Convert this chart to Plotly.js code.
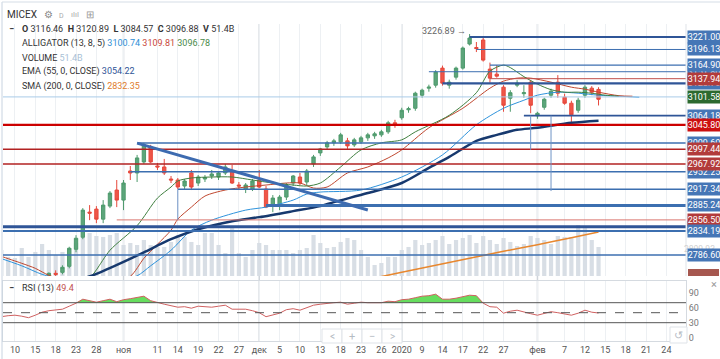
<!DOCTYPE html>
<html><head><meta charset="utf-8">
<script src="https://cdn.plot.ly/plotly-3.0.1.min.js"></script>
<style>html,body{margin:0;padding:0;background:#fff;overflow:hidden}#chart{width:720px;height:359px}</style>
</head><body><div id="chart"></div>
<script>
// ---------------- DATA ----------------
const tradingDays=['2019-10-07','2019-10-08','2019-10-09','2019-10-10','2019-10-11','2019-10-14','2019-10-15','2019-10-16','2019-10-17','2019-10-18',
'2019-10-21','2019-10-22','2019-10-23','2019-10-24','2019-10-25','2019-10-28','2019-10-29','2019-10-30','2019-10-31','2019-11-01',
'2019-11-05','2019-11-06','2019-11-07','2019-11-08','2019-11-11','2019-11-12','2019-11-13','2019-11-14','2019-11-15','2019-11-18',
'2019-11-19','2019-11-20','2019-11-21','2019-11-22','2019-11-25','2019-11-26','2019-11-27','2019-11-28','2019-11-29','2019-12-02',
'2019-12-03','2019-12-04','2019-12-05','2019-12-06','2019-12-09','2019-12-10','2019-12-11','2019-12-12','2019-12-13','2019-12-16',
'2019-12-17','2019-12-18','2019-12-19','2019-12-20','2019-12-23','2019-12-24','2019-12-25','2019-12-26','2019-12-27','2019-12-30',
'2020-01-03','2020-01-06','2020-01-08','2020-01-09','2020-01-10','2020-01-13','2020-01-14','2020-01-15','2020-01-16','2020-01-17',
'2020-01-20','2020-01-21','2020-01-22','2020-01-23','2020-01-24','2020-01-27','2020-01-28','2020-01-29','2020-01-30','2020-01-31',
'2020-02-03','2020-02-04','2020-02-05','2020-02-06','2020-02-07','2020-02-10','2020-02-11','2020-02-12','2020-02-13','2020-02-14'];
const futureDays=['2020-02-15','2020-02-16','2020-02-17','2020-02-18','2020-02-19','2020-02-20','2020-02-21','2020-02-22','2020-02-23','2020-02-24','2020-02-25','2020-02-26','2020-02-27','2020-02-28','2020-02-29'];

const openP=[2742,2738,2728,2730,2735,2730,2726,2733,2745,2750,
 2752,2764,2798,2822,2872,2878,2858,2884,2916,2896,
 2954,2950,2972,3002,2964,2962,2938,2936,2924,2950,
 2930,2938,2944,2942,2950,2952,2926,2918,2918,2936,
 2918,2886,2886,2902,2930,2942,2932,2968,2990,3002,
 3010,3012,3014,3006,3012,3020,3024,3026,3032,3050,
 3060,3076,3079,3105,3119,3125,3159,3125,3141,3159,
 3207,3200,3215,3157,3147,3121,3099,3125,3108,3131,
 3064,3081,3105,3131,3101,3089,3075,3105,3119,3116.46];
const highP=[2750,2740,2736,2738,2740,2738,2736,2740,2752,2756,
 2766,2803,2826,2880,2886,2884,2896,2914,2936,2936,
 2964,2986,3010,3006,2970,2978,2944,2940,2938,2956,
 2946,2946,2956,2954,2968,2966,2932,2930,2938,2956,
 2924,2906,2906,2930,2946,2950,2958,2986,3000,3014,
 3018,3030,3020,3020,3024,3030,3032,3036,3054,3056,
 3080,3082,3112,3118,3126,3155,3164,3136,3162,3202,
 3226.89,3211,3220,3170,3165,3125,3115,3135,3125,3135,
 3072,3100,3118,3145,3108,3094,3100,3125,3123,3120.89];
const lowP=[2730,2722,2718,2722,2725,2720,2718,2725,2740,2743,
 2748,2760,2792,2818,2856,2850,2850,2880,2882,2876,
 2936,2932,2968,2970,2956,2946,2930,2918,2918,2916,
 2924,2932,2938,2936,2946,2928,2916,2910,2914,2920,
 2880,2872,2876,2896,2924,2926,2926,2962,2984,2996,
 3004,3008,2998,3002,3008,3014,3018,3022,3028,3040,
 3056,3070,3074,3100,3112,3120,3124,3118,3136,3156,
 3204,3191,3172,3130,3140,3072,3072,3121,3100,3069,
 3058,3076,3100,3100,3086,3050,3070,3100,3105,3084.57];
const closeP=[2738,2728,2730,2735,2730,2726,2733,2737,2750,2748,
 2762,2800,2820,2876,2870,2858,2886,2910,2896,2930,
 2950,2980,3006,2972,2962,2950,2936,2922,2934,2922,
 2942,2941,2948,2950,2962,2930,2924,2926,2934,2922,
 2882,2900,2902,2926,2944,2930,2954,2982,2998,3010,
 3014,3026,3004,3016,3020,3026,3028,3032,3050,3046,
 3075,3078,3109,3115,3121,3151,3129,3131,3159,3199,
 3219,3198,3175,3139,3143,3085,3110,3129,3110,3085,
 3069,3097,3113,3109,3089,3066,3095,3121,3111,3096.88];
// volume, billions
const volumeB=[40.0,46.5,34.9,33.2,49.8,34.9,43.2,56.4,46.5,38.2,
 43.2,49.8,58.1,68.1,74.7,69.7,68.1,71.4,74.7,54.8,
 58.1,54.8,63.1,54.8,51.5,51.5,59.8,71.4,68.1,59.8,
 54.8,74.7,74.7,54.8,41.5,83.0,41.5,34.9,46.5,58.1,
 54.8,46.5,46.5,46.5,41.5,46.5,49.8,71.4,58.1,49.8,
 51.5,59.8,66.4,63.1,46.5,34.9,21.6,24.9,34.9,34.9,
 46.5,51.5,63.1,54.8,58.1,63.1,69.7,56.4,63.1,66.4,
 71.4,58.1,69.7,63.1,56.4,66.4,59.8,53.1,56.4,69.7,
 66.4,63.1,56.4,69.7,68.1,68.1,88.0,83.0,63.1,51.4];
const rsi13=[42,42,44,45,43,40,45,51,54,55,
 57,63,69,77,74,71,74,77,72,76,
 78,80,83,74,70,67,64,61,62,59,
 63,62,61,63,65,57,57,57,54,50,
 42,46,49,56,58,55,60,65,67,69,
 70,71,67,69,71,70,70,70,73,72,
 76,77,80,83,84,87,77,77,79,82,
 85,84,69,62,61,49,53,55,51,48,
 45,48,52,50,48,45,49,55,51,49.4];

// Alligator lines
const jawDates=['2019-10-07','2019-10-11','2019-10-16','2019-10-21','2019-10-25','2019-10-31','2019-11-06','2019-11-08','2019-11-13','2019-11-18','2019-11-21','2019-11-28','2019-12-03','2019-12-09','2019-12-11','2019-12-13','2019-12-23','2020-01-03','2020-01-14','2020-01-21','2020-01-27','2020-01-30','2020-02-03','2020-02-06','2020-02-11','2020-02-14','2020-02-17','2020-02-20'];
const jawVals=[2784,2765,2748,2738,2732,2734,2745,2765,2796,2836,2856,2876,2882,2896,2908,2912,2916,2942,2986,3046,3079,3095,3105,3111,3109,3105,3103,3101];
const teethDates=['2019-10-07','2019-10-08','2019-10-11','2019-10-15','2019-10-17','2019-10-21','2019-10-25','2019-10-31','2019-11-05','2019-11-07','2019-11-08','2019-11-11','2019-11-13','2019-11-14','2019-11-18','2019-11-20','2019-11-25','2019-11-28','2019-12-03','2019-12-06','2019-12-10','2019-12-12','2019-12-16','2019-12-19','2019-12-24','2019-12-27','2020-01-03','2020-01-10','2020-01-17','2020-01-23','2020-01-27','2020-01-29','2020-01-31','2020-02-05','2020-02-10','2020-02-12','2020-02-14','2020-02-17','2020-02-19'];
const teethVals=[2790,2784,2770,2760,2746,2738,2732,2736,2744,2780,2794,2808,2836,2858,2882,2904,2916,2922,2926,2930,2930,2920,2922,2950,2962,2980,2996,3040,3079,3119,3133,3139,3139,3131,3121,3117,3111,3104,3103];
const lipsDates=['2019-10-23','2019-10-25','2019-10-28','2019-10-30','2019-11-06','2019-11-11','2019-11-13','2019-11-14','2019-11-18','2019-11-21','2019-11-26','2019-11-29','2019-12-04','2019-12-09','2019-12-11','2019-12-13','2019-12-18','2019-12-23','2019-12-26','2020-01-03','2020-01-08','2020-01-15','2020-01-21','2020-01-23','2020-01-27','2020-01-28','2020-01-30','2020-02-03','2020-02-05','2020-02-07','2020-02-11','2020-02-13','2020-02-15','2020-02-17'];
const lipsVals=[2722,2740,2757,2796,2845,2900,2922,2934,2940,2942,2942,2936,2930,2926,2924,2930,2962,2996,3010,3016,3032,3065,3110,3153,3165,3160,3142,3127,3116,3111,3111,3109,3105,3103];
const emaDates=['2019-10-23','2019-10-24','2019-10-28','2019-11-01','2019-11-07','2019-11-13','2019-11-19','2019-11-26','2019-12-02','2019-12-09','2019-12-13','2019-12-17','2019-12-24','2020-01-03','2020-01-10','2020-01-15','2020-01-21','2020-01-24','2020-01-29','2020-02-03','2020-02-10','2020-02-14'];
const emaVals=[2733,2739,2749,2773,2792,2818,2838,2854,2862,2874,2884,2892,2910,2930,2960,2982,3014,3026,3036,3040,3050,3054.22];
const smaDates=['2019-12-24','2020-01-03','2020-01-13','2020-01-20','2020-01-27','2020-02-03','2020-02-10','2020-02-14'];
const smaVals=[2738,2752,2766,2780,2794,2807,2821,2832.35];
const alligatorNow=[3100.74,3109.81,3096.78];

// drawn price levels
const levelPrice=[3221.00,3196.13,3151.80,3164.90,3128.70,3137.94,3101.58,3064.18,3045.80,3009.60,2997.44,2952.25,2967.92,2917.34,2885.24,2843.00,2856.50,2834.19,2786.60];
const levelFrom=['2020-01-20','2020-01-21','2020-01-10','2020-01-23','2020-01-14','2020-01-23','2019-10-07','2020-01-30','2019-10-07','2019-11-06','2019-10-07','2019-11-05','2019-10-07','2019-11-14','2019-12-03','2019-10-07','2019-10-31','2019-10-07','2019-10-07'];
const trendDates=['2019-11-06','2019-12-24'];
const trendPrices=[3009.60,2876.20];
const vertDates=['2019-11-14','2020-01-31','2020-02-05'];
const vertTop=[2917.34,3064.18,3064.18];
const vertBottom=[2856.50,2996.00,2914.00];

const tickDates=['2019-10-10','2019-10-15','2019-10-18','2019-10-23','2019-10-28','2019-11-01','2019-11-11','2019-11-14','2019-11-19','2019-11-22','2019-11-27','2019-12-02','2019-12-05','2019-12-10','2019-12-13','2019-12-18','2019-12-23','2019-12-26','2020-01-03','2020-01-09','2020-01-14','2020-01-17','2020-01-22','2020-01-27','2020-02-03','2020-02-07','2020-02-12','2020-02-15','2020-02-18','2020-02-21','2020-02-24','2020-02-27'];
const tickLabels=['10','15','18','23','28','ноя','11','14','19','22','27','дек','5','10','13','18','23','26','2020','9','14','17','22','27','фев','7','12','15','18','21','24','27'];
const monthStarts=['2019-11-01','2019-12-02','2020-01-03','2020-02-03'];

// ---------------- STYLE / LAYOUT ----------------
const FONT='Roboto, Arial, sans-serif';
const W=720,H=359,ML=3,MR=34,MT=24,MB=18;
const PW=W-ML-MR, PH=H-MT-MB;
const px=x=>(x-ML)/PW, py=y=>(H-MB-y)/PH;
const allDays=tradingDays.concat(futureDays);
const idx=d=>allDays.indexOf(d);
const lastDay=allDays[allDays.length-1];
const BLUE='#3c6fb0', DBLUE='#2f5597', DRED='#b23b3b';
const levelStyle=[
 {c:DBLUE,w:2,b:'#4576b6'},{c:BLUE,w:1,b:'#4576b6'},{c:BLUE,w:1,b:'#4576b6'},{c:BLUE,w:1.2,b:'#4576b6'},
 {c:DBLUE,w:2.2,b:'#4576b6'},{c:'#c0504d',w:1,b:DRED},{c:'#a9cbe8',w:1,b:'#2c6a2f'},{c:DBLUE,w:1.8,b:'#4576b6'},
 {c:'#cc0000',w:2.2,b:'#cc1010'},{c:BLUE,w:1.5,b:'#4576b6'},{c:'#b22222',w:1.5,b:DRED},{c:BLUE,w:1.5,b:'#4576b6'},
 {c:'#b22222',w:1.5,b:DRED},{c:BLUE,w:1.5,b:'#4576b6'},{c:BLUE,w:3,b:'#4576b6'},{c:DBLUE,w:3,b:'#4576b6'},
 {c:'#d9756e',w:1,b:DRED},{c:BLUE,w:2,b:'#4576b6'},{c:BLUE,w:1.5,b:'#4576b6'}];

const traces=[];
traces.push({type:'bar',x:tradingDays,y:volumeB,xaxis:'x',yaxis:'y',marker:{color:'#d8dee5'},width:0.62,hoverinfo:'skip'});
traces.push({type:'candlestick',x:tradingDays,open:openP,high:highP,low:lowP,close:closeP,xaxis:'x',yaxis:'y2',
 increasing:{line:{color:'#4e9a6c',width:1},fillcolor:'#5ca57b'},decreasing:{line:{color:'#e6483c',width:1},fillcolor:'#ef5648'},whiskerwidth:0,hoverinfo:'skip'});
function ln(x,y,color,width,shape,dash){return {type:'scatter',mode:'lines',x:x,y:y,xaxis:'x',yaxis:'y2',line:{color:color,width:width,shape:shape||'linear',smoothing:0.8,dash:dash||'solid'},hoverinfo:'skip'};}
traces.push(ln(smaDates,smaVals,'#e8872e',1.5,'spline'));
traces.push(ln(jawDates,jawVals,'#2e93dc',1,'spline'));
traces.push(ln(teethDates,teethVals,'#c0472f',1,'spline'));
traces.push(ln(lipsDates,lipsVals,'#3f7f3f',1,'spline'));
traces.push(ln(emaDates,emaVals,'#17396e',2.5,'spline'));
levelPrice.forEach((p,k)=>{traces.push(ln([levelFrom[k],lastDay],[p,p],levelStyle[k].c,levelStyle[k].w));});
traces.push(ln(trendDates,trendPrices,'#3d6bb0',3));
vertDates.forEach((d,k)=>traces.push(ln([d,d],[vertTop[k],vertBottom[k]],'#6f93c6',1)));

// RSI
const rsiMax=rsi13.map(v=>Math.max(v,70));
traces.push({type:'scatter',mode:'lines',x:tradingDays,y:tradingDays.map(()=>70),xaxis:'x2',yaxis:'y3',line:{width:0,color:'rgba(0,0,0,0)'},hoverinfo:'skip'});
traces.push({type:'scatter',mode:'lines',x:tradingDays,y:rsiMax,xaxis:'x2',yaxis:'y3',fill:'tonexty',fillcolor:'#66dd5e',line:{width:0,color:'rgba(0,0,0,0)'},hoverinfo:'skip'});
traces.push({type:'scatter',mode:'lines',x:tradingDays,y:rsi13,xaxis:'x2',yaxis:'y3',line:{color:'#d06060',width:1},hoverinfo:'skip'});

const shapes=[];
monthStarts.forEach(d=>shapes.push({type:'line',xref:'x',x0:idx(d),x1:idx(d),yref:'paper',y0:0,y1:1,line:{color:'#cfd4da',width:1.5},layer:'below'}));
[[70,'solid'],[30,'solid'],[50,'dash']].forEach(a=>shapes.push({type:'line',xref:'paper',x0:0,x1:1,yref:'y3',y0:a[0],y1:a[0],line:{color:'#555',width:1,dash:a[1]}}));
shapes.push({type:'line',xref:'paper',yref:'paper',x0:px(2),x1:px(2),y0:py(2),y1:py(359),line:{color:'#c8d3e0',width:1}});
shapes.push({type:'line',xref:'paper',yref:'paper',x0:px(2),x1:px(720),y0:py(2),y1:py(2),line:{color:'#d5dde6',width:1}});
shapes.push({type:'line',xref:'paper',yref:'paper',x0:1,x1:1,y0:py(276),y1:1,line:{color:'#dfe3e8',width:1}});
shapes.push({type:'rect',xref:'paper',yref:'paper',x0:px(688),x1:px(719),y0:py(276),y1:py(269),fillcolor:'#a6574f',line:{width:0}});
// nav buttons
[322,342,362,382].forEach(x=>shapes.push({type:'rect',xref:'paper',yref:'paper',x0:px(x),x1:px(x+20),y0:py(343),y1:py(329),fillcolor:'#fff',line:{color:'#dfe3e8',width:1}}));
shapes.push({type:'rect',xref:'paper',yref:'paper',x0:px(670),x1:px(687),y0:py(343),y1:py(327),fillcolor:'#fff',line:{color:'#dfe3e8',width:1}});

const ann=[];
function txt(x,y,t,size,color,anchor){ann.push({xref:'paper',yref:'paper',x:px(x),y:py(y),text:t,showarrow:false,xanchor:anchor||'left',yanchor:'middle',font:{family:FONT,size:size||9,color:color||'#333'}});}
const S='\u00a0';
txt(5,15,'MICEX',10,'#333');
txt(42,15,'⚙',10,'#888');txt(57,16,'D',7,'#aaa');txt(69,15,'ılıl',8,'#aaa');txt(84,15,'⊞',10,'#999');
const last=tradingDays.length-1;
txt(7,29,'<b>−</b>',9,'#333');
txt(20,29,'<b>O</b> '+openP[last].toFixed(2)+S+S+'<b>H</b> '+highP[last].toFixed(2)+S+S+'<b>L</b> '+lowP[last].toFixed(2)+S+S+'<b>C</b> '+closeP[last].toFixed(2)+S+S+'<b>V</b> '+volumeB[last].toFixed(1)+'B',9,'#333');
txt(20,43.5,'ALLIGATOR (13, 8, 5)'+S+'<span style="color:#2e8fd6">'+alligatorNow[0].toFixed(2)+'</span>'+S+'<span style="color:#c9473a">'+alligatorNow[1].toFixed(2)+'</span>'+S+'<span style="color:#4a8a4a">'+alligatorNow[2].toFixed(2)+'</span>',9,'#333');
txt(20,57.5,'VOLUME'+S+'<span style="color:#a9bfd6">'+volumeB[last].toFixed(1)+'B</span>',9,'#333');
txt(20,71.5,'EMA (55, 0, CLOSE)'+S+'<span style="color:#2f5597">'+emaVals[emaVals.length-1].toFixed(2)+'</span>',9,'#333');
txt(20,86,'SMA (200, 0, CLOSE)'+S+'<span style="color:#e07b2c">'+smaVals[smaVals.length-1].toFixed(2)+'</span>',9,'#333');
txt(7,288,'<b>−</b>',9,'#333');
txt(20,288,'RSI (13)'+S+'<span style="color:#c0504d">'+rsi13[last].toFixed(1)+'</span>',9,'#333');
txt(714,284,'×',11,'#999','center');
txt(332,336,'<',10,'#b5bcc4','center');txt(352,336,'+',11,'#b5bcc4','center');txt(372,336,'−',11,'#b5bcc4','center');txt(392,336,'>',10,'#b5bcc4','center');
txt(678.5,335,'↺',11,'#b5bcc4','center');
txt(717,249,'2809.93',8.5,'#d0d0d0','right');
// high marker
ann.push({xref:'x',yref:'y2',x:idx(tradingDays[70]),y:highP[70],text:highP[70].toFixed(2)+' →',showarrow:false,xanchor:'right',yanchor:'middle',xshift:-2,yshift:3,font:{family:FONT,size:9,color:'#666'}});
// level labels
levelPrice.forEach((p,k)=>ann.push({xref:'paper',yref:'y2',x:1,y:p,xanchor:'left',yanchor:'middle',xshift:1,text:p.toFixed(2),showarrow:false,bgcolor:levelStyle[k].b,width:32,height:12,borderpad:0,align:'center',font:{family:FONT,size:9,color:'#fff'}}));

const layout={width:W,height:H,margin:{l:ML,r:MR,t:MT,b:MB,pad:0},paper_bgcolor:'#fff',plot_bgcolor:'#fff',showlegend:false,hovermode:false,
 font:{family:FONT},
 xaxis:{type:'category',categoryorder:'array',categoryarray:allDays,range:[1.238,101.89],autorange:false,domain:[0,1],anchor:'y',tickmode:'array',tickvals:tickDates,showticklabels:false,ticks:'',showgrid:true,gridcolor:'#edf0f3',zeroline:false,showline:false,rangeslider:{visible:false},fixedrange:true},
 yaxis:{domain:[py(276),1],range:[3.3,421.6],autorange:false,showgrid:false,showticklabels:false,zeroline:false,ticks:'',fixedrange:true},
 yaxis2:{overlaying:'y',range:[2744.7,3246.9],autorange:false,showgrid:false,showticklabels:false,zeroline:false,ticks:'',fixedrange:true},
 xaxis2:{type:'category',categoryorder:'array',categoryarray:allDays,range:[1.238,101.89],autorange:false,domain:[0,1],anchor:'y3',tickmode:'array',tickvals:tickDates,ticktext:tickLabels,tickfont:{family:FONT,size:9,color:'#555'},ticks:'',showgrid:true,gridcolor:'#edf0f3',showline:true,linecolor:'#d5dae0',mirror:true,zeroline:false,fixedrange:true},
 yaxis3:{domain:[0,py(281)],range:[-6.6,113.4],autorange:false,anchor:'x2',side:'right',tickmode:'array',tickvals:[0,30,60,90],tickfont:{family:FONT,size:9,color:'#777'},ticks:'',showgrid:false,zeroline:false,showline:true,linecolor:'#d5dae0',mirror:true,fixedrange:true},
 shapes:shapes,annotations:ann};
Plotly.newPlot('chart',traces,layout,{staticPlot:true,displayModeBar:false});
</script></body></html>
